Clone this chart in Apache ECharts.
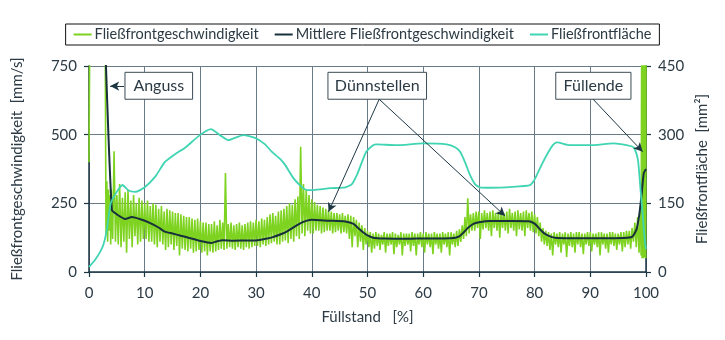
<!DOCTYPE html>
<html><head><meta charset="utf-8">
<script src="https://cdn.jsdelivr.net/npm/echarts@6/dist/echarts.min.js"></script>
<style>html,body{margin:0;padding:0;background:#fff}#c{width:725px;height:340px}</style>
</head><body><div id="c"></div>
<script>
// ---- data ----
const seriesNames = ['Fließfrontgeschwindigkeit', 'Mittlere Fließfrontgeschwindigkeit', 'Fließfrontfläche'];
const xTickValues = [0,10,20,30,40,50,60,70,80,90,100];
const leftTickValues = [0,250,500,750];
const rightTickValues = [0,150,300,450];

// raw flow-front speed [Füllstand %, mm/s]
const rawSpeed = [
[0,400],[0.15,900],[2.9,900],[3.05,140],[3.2,330],[3.35,110],[3.5,300],[3.65,150],[3.8,280],[3.9,100],
[4,300],[4.25,120],[4.5,440],[4.75,110],
[5,280],[5.25,100],[5.5,320],[5.75,90],
[6,270],[6.25,110],[6.5,290],[6.75,70],
[7,300],[7.25,120],[7.5,260],[7.75,90],
[8,280],[8.25,130],[8.5,250],[8.75,100],
[9,270],[9.25,110],[9.5,260],[9.75,120],
[10,250],[10.25,120],[10.5,260],[10.75,110],
[11,240],[11.25,110],[11.5,250],[11.75,100],
[12,245],[12.25,90],[12.5,230],[12.75,110],
[13,240],[13.25,100],[13.5,220],[13.75,80],
[14,230],[14.25,90],[14.5,225],[14.75,100],
[15,220],[15.25,80],[15.5,215],[15.75,95],
[16,215],[16.25,60],[16.5,210],[16.75,85],
[17,205],[17.25,80],[17.5,200],[17.75,75],
[18,200],[18.25,85],[18.5,195],[18.75,70],
[19,190],[19.25,75],[19.5,195],[19.75,80],
[20,185],[20.25,70],[20.5,180],[20.75,75],
[21,180],[21.25,60],[21.5,175],[21.75,75],
[22,175],[22.25,70],[22.5,185],[22.75,75],
[23,170],[23.25,80],[23.5,190],[23.75,85],
[24,180],[24.25,80],[24.5,360],[24.75,85],
[25,175],[25.25,90],[25.5,180],[25.75,85],
[26,170],[26.25,80],[26.5,175],[26.75,90],
[27,180],[27.25,85],[27.5,170],[27.75,80],
[28,175],[28.25,90],[28.5,180],[28.75,85],
[29,185],[29.25,90],[29.5,180],[29.75,95],
[30,190],[30.25,95],[30.5,185],[30.75,90],
[31,195],[31.25,100],[31.5,190],[31.75,95],
[32,200],[32.25,100],[32.5,210],[32.75,105],
[33,215],[33.25,110],[33.5,205],[33.75,100],
[34,220],[34.25,100],[34.5,225],[34.75,110],
[35,230],[35.25,115],[35.5,240],[35.75,105],
[36,250],[36.25,120],[36.5,245],[36.75,110],
[37,265],[37.25,130],[37.5,275],[37.75,120],
[38,456],[38.25,140],[38.5,320],[38.75,130],
[39,300],[39.25,150],[39.5,280],[39.75,140],
[40,265],[40.25,140],[40.5,255],[40.75,150],
[41,245],[41.25,150],[41.5,240],[41.75,140],
[42,235],[42.25,145],[42.5,230],[42.75,150],
[43,225],[43.25,150],[43.5,220],[43.75,140],
[44,215],[44.25,145],[44.5,215],[44.75,150],
[45,210],[45.25,140],[45.5,215],[45.75,145],
[46,205],[46.25,140],[46.5,210],[46.75,120],
[47,205],[47.25,90],[47.5,200],[47.75,130],
[48,190],[48.25,90],[48.5,180],[48.75,110],
[49,170],[49.25,80],[49.5,160],[49.75,100],
[50,150],[50.25,90],[50.5,145],[50.75,70],
[51,140],[51.25,85],[51.5,145],[51.75,95],
[52,140],[52.25,80],[52.5,135],[52.75,100],
[53,145],[53.25,70],[53.5,140],[53.75,95],
[54,140],[54.25,100],[54.5,145],[54.75,65],
[55,140],[55.25,90],[55.5,135],[55.75,100],
[56,145],[56.25,60],[56.5,140],[56.75,95],
[57,140],[57.25,100],[57.5,140],[57.75,75],
[58,145],[58.25,95],[58.5,140],[58.75,60],
[59,140],[59.25,100],[59.5,145],[59.75,90],
[60,140],[60.25,70],[60.5,145],[60.75,100],
[61,140],[61.25,90],[61.5,140],[61.75,65],
[62,145],[62.25,100],[62.5,140],[62.75,85],
[63,140],[63.25,70],[63.5,145],[63.75,100],
[64,140],[64.25,90],[64.5,145],[64.75,60],
[65,145],[65.25,100],[65.5,140],[65.75,90],
[66,150],[66.25,95],[66.5,155],[66.75,110],
[67,170],[67.25,120],[67.5,200],[67.75,130],
[68,268],[68.25,140],[68.5,210],[68.75,150],
[69,215],[69.25,150],[69.5,220],[69.75,160],
[70,220],[70.25,120],[70.5,215],[70.75,155],
[71,225],[71.25,160],[71.5,215],[71.75,150],
[72,220],[72.25,130],[72.5,225],[72.75,160],
[73,215],[73.25,150],[73.5,220],[73.75,125],
[74,225],[74.25,160],[74.5,215],[74.75,150],
[75,220],[75.25,140],[75.5,230],[75.75,160],
[76,215],[76.25,150],[76.5,220],[76.75,130],
[77,225],[77.25,155],[77.5,215],[77.75,150],
[78,220],[78.25,130],[78.5,225],[78.75,160],
[79,215],[79.25,150],[79.5,220],[79.75,145],
[80,210],[80.25,140],[80.5,200],[80.75,130],
[81,180],[81.25,110],[81.5,160],[81.75,100],
[82,150],[82.25,95],[82.5,145],[82.75,80],
[83,140],[83.25,60],[83.5,145],[83.75,100],
[84,140],[84.25,90],[84.5,145],[84.75,70],
[85,140],[85.25,100],[85.5,145],[85.75,55],
[86,140],[86.25,95],[86.5,145],[86.75,90],
[87,140],[87.25,70],[87.5,145],[87.75,100],
[88,145],[88.25,90],[88.5,140],[88.75,65],
[89,140],[89.25,100],[89.5,145],[89.75,95],
[90,145],[90.25,75],[90.5,140],[90.75,100],
[91,140],[91.25,90],[91.5,145],[91.75,60],
[92,145],[92.25,100],[92.5,140],[92.75,85],
[93,140],[93.25,70],[93.5,145],[93.75,100],
[94,145],[94.25,95],[94.5,140],[94.75,80],
[95,140],[95.25,100],[95.5,145],[95.75,75],
[96,145],[96.25,90],[96.5,150],[96.75,100],
[97,150],[97.25,85],[97.5,160],[97.75,110],
[98,180],[98.25,90],[98.5,200],[98.75,70],
[99,240],[99.12,60],[99.22,800],[99.3,50],[99.38,800],[99.45,60],[99.52,800],[99.58,50],
[99.65,800],[99.72,55],[99.78,800],[99.85,60],[99.9,800],[99.95,50],[100,800]
];

// smoothed mean speed [Füllstand %, mm/s]
const meanSpeed = [
[2.8,900],[4.1,226],[5,210],[6.5,193],[7.7,200],[9.5,190],[11,178],[12.5,162],[13.6,147],[15,140],
[16.5,132],[18,124],[20,113],[22,106],[23,112],[24,116],[26,114],[28,115],[30,115],[32,122],
[33,127],[35,142],[36.5,160],[38,178],[39,186],[40,190],[43,187],[46,184],[47.5,175],[48.3,160],
[49,148],[50,133],[51,125],[53,122],[57,121],[60,122],[65,123],[66.5,130],[67.3,145],[68,160],
[69,175],[70,181],[72,186],[76,186],[79,185],[80,176],[81,155],[81.8,140],[83,128],[84,124],
[90,123],[96,124],[97.5,128],[98.3,155],[98.8,210],[99.2,280],[99.6,360],[100,375]
];

// flow-front area [Füllstand %, mm²]
const frontArea = [
[0,11],[1,25],[2,44],[2.6,60],[3.2,92],[3.9,150],[5,175],[6,190],[7.1,178],[8.3,175],
[10,185],[12,210],[13.6,240],[15.5,258],[17.2,271],[19.9,299],[21.9,312],[23.5,299],[25,288],[27.7,299],
[29.8,293],[31.5,280],[32.8,263],[34.3,247],[35.2,234],[36.7,205],[38,188],[39.1,179],[40.3,179],[43.3,183],
[46,185],[47.2,192],[48.1,212],[49,240],[49.8,263],[51,277],[51.6,279],[55.2,277],[60,281],[64.2,279],
[65.8,272],[66.6,263],[67.5,240],[68.4,212],[69.3,192],[70.2,185],[72,184],[76,186],[79.2,190],[79.8,198],
[80.4,212],[81.3,235],[82.2,256],[83.2,276],[84,283],[86.4,277],[90,277],[94.2,281],[96.5,277],[97.8,272],
[98.3,258],[98.6,241],[99,183],[99.5,110],[99.8,66],[100,50]
];

// callout labels and their anchor points (data coordinates, left axis)
const calloutTexts = ['Anguss', 'Dünnstellen', 'Füllende'];
const calloutBoxes = [[[6.46,727],[18.6,629]], [[42.9,727],[60.6,629]], [[83.8,727],[97.3,629]]];
const calloutArrows = [
  [[6.3,677],[3.8,677]],
  [[52.1,629],[43.0,219]],
  [[52.1,629],[74.7,204]],
  [[90.5,629],[99.4,438]]
];

// ---- chart ----
const FONT = 'Lato';
const TXT = '#2b3a44';
const AX = '#1d3644';
const GRID = '#6a7b88';
const chart = echarts.init(document.getElementById('c'), null, {renderer: 'canvas'});
chart.setOption({
  animation: false,
  textStyle: {fontFamily: FONT},
  legend: {
    top: 24, left: 'center',
    data: seriesNames,
    icon: 'rect', itemWidth: 18, itemHeight: 2, itemGap: 16,
    borderColor: '#111', borderWidth: 1, padding: [3, 8, 3, 8],
    textStyle: {fontFamily: FONT, fontSize: 14.5, color: TXT, padding: [0, 0, 0, -2]}
  },
  grid: {left: 89, right: 79, top: 66, bottom: 68},
  xAxis: {
    type: 'value', min: 0, max: 100, interval: 10,
    name: 'Füllstand   [%]', nameLocation: 'middle', nameGap: 38,
    nameTextStyle: {fontFamily: FONT, fontSize: 15, color: TXT},
    axisLine: {onZero: false, lineStyle: {color: AX, width: 1.5}},
    axisTick: {show: true, length: 5, lineStyle: {color: AX, width: 1.2}},
    axisLabel: {fontFamily: FONT, fontSize: 15, color: TXT, margin: 14,
      formatter: v => xTickValues.includes(v) ? String(v) : ''},
    splitLine: {show: true, lineStyle: {color: GRID, width: 1}}
  },
  yAxis: [{
    type: 'value', min: 0, max: 750, interval: 250, position: 'left',
    name: 'Fließfrontgeschwindigkeit  [mm/s]', nameLocation: 'middle', nameGap: 64, nameRotate: 90,
    nameTextStyle: {fontFamily: FONT, fontSize: 15, color: TXT},
    axisLine: {show: true, lineStyle: {color: AX, width: 1.5}},
    axisTick: {show: true, length: 5, lineStyle: {color: AX, width: 1.2}},
    axisLabel: {fontFamily: FONT, fontSize: 15, color: TXT, margin: 12,
      formatter: v => leftTickValues.includes(v) ? String(v) : ''},
    splitLine: {show: true, lineStyle: {color: GRID, width: 1}}
  }, {
    type: 'value', min: 0, max: 450, interval: 150, position: 'right',
    name: 'Fließfrontfläche  [mm²]', nameLocation: 'middle', nameGap: 40, nameRotate: 90,
    nameTextStyle: {fontFamily: FONT, fontSize: 15, color: TXT},
    axisLine: {show: true, lineStyle: {color: AX, width: 1.5}},
    axisTick: {show: true, length: 5, lineStyle: {color: AX, width: 1.2}},
    axisLabel: {fontFamily: FONT, fontSize: 15, color: TXT, margin: 12,
      formatter: v => rightTickValues.includes(v) ? String(v) : ''},
    splitLine: {show: false}
  }],
  series: [{
    name: seriesNames[0], type: 'line', yAxisIndex: 0, data: rawSpeed,
    showSymbol: false, clip: true, color: '#7ed321',
    lineStyle: {width: 1.6, color: '#7ed321'}, z: 2
  }, {
    name: seriesNames[1], type: 'line', yAxisIndex: 0, data: meanSpeed,
    showSymbol: false, clip: true, smooth: 0.2, color: '#17303c',
    lineStyle: {width: 2, color: '#17303c'}, z: 3,
    markArea: {
      silent: true,
      itemStyle: {color: '#ffffff', borderColor: '#3c4b55', borderWidth: 1, opacity: 1},
      label: {show: true, position: 'inside', fontFamily: FONT, fontSize: 16, color: TXT},
      data: calloutBoxes.map((b, i) => [{coord: b[0], name: calloutTexts[i]}, {coord: b[1]}])
    },
    markLine: {
      silent: true, symbol: ['none', 'arrow'], symbolSize: [7, 9],
      label: {show: false},
      lineStyle: {color: '#1d3644', width: 1, type: 'solid'},
      data: calloutArrows.map(a => [{coord: a[0]}, {coord: a[1]}])
    }
  }, {
    name: seriesNames[2], type: 'line', yAxisIndex: 1, data: frontArea,
    showSymbol: false, clip: true, smooth: 0.2, color: '#3fd4b2',
    lineStyle: {width: 1.8, color: '#3fd4b2'}, z: 4
  }]
});
</script>
</body></html>
